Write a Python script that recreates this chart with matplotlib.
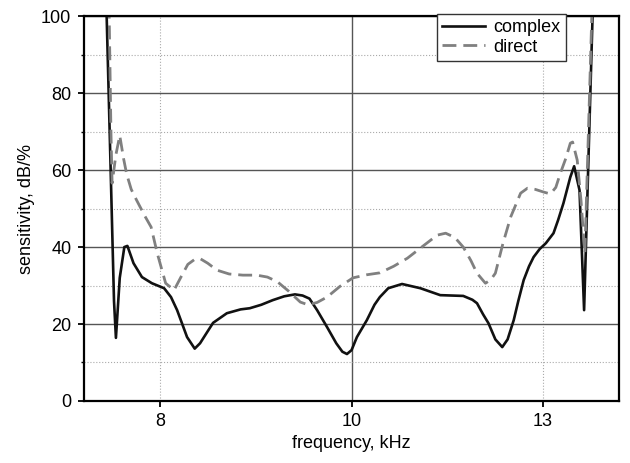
import numpy as np
import matplotlib
matplotlib.use("Agg")
import matplotlib.pyplot as plt
from matplotlib.ticker import MultipleLocator

plt.rcParams["font.family"] = ["Liberation Sans", "DejaVu Sans"]
plt.rcParams["font.size"] = 13

# complex (solid) curve
x_complex = [7.295, 7.35, 7.395, 7.42, 7.47, 7.53, 7.57, 7.65, 7.76, 7.89, 8.05, 8.14,
             8.22, 8.35, 8.45, 8.52, 8.60, 8.69, 8.87, 9.05, 9.17, 9.32, 9.47, 9.62,
             9.76, 9.86, 9.95, 10.05, 10.18, 10.30, 10.38, 10.44, 10.50, 10.57, 10.70,
             10.80, 10.87, 10.98, 11.16, 11.40, 11.66, 11.96, 12.08, 12.14, 12.22, 12.29,
             12.38, 12.47, 12.54, 12.62, 12.68, 12.75, 12.82, 12.88, 12.96, 13.04, 13.14,
             13.20, 13.27, 13.36, 13.41, 13.48, 13.54, 13.655]
y_complex = [103, 61, 26, 16.4, 32, 40, 40.3, 35.8, 32.2, 30.6, 29.3, 27,
             23.6, 16.6, 13.6, 15, 17.5, 20.3, 22.8, 23.8, 24.1, 25, 26.2, 27.2,
             27.7, 27.4, 26.6, 23.6, 19.2, 15, 12.8, 12.2, 13.2, 16.6, 21,
             25, 27, 29.3, 30.4, 29.3, 27.5, 27.3, 26.3, 25.4, 22.5, 20.2,
             16, 14.0, 16, 21, 26, 31.4, 35, 37.4, 39.5, 41, 43.6,
             47, 51.4, 58.2, 61, 54.8, 23.6, 103]

# direct (dashed) curve
x_direct = [7.33, 7.355, 7.37, 7.42, 7.47, 7.52, 7.56, 7.62, 7.69, 7.80, 7.88, 7.96,
            8.07, 8.18, 8.27, 8.36, 8.45, 8.52, 8.62, 8.74, 8.90, 9.08, 9.26, 9.40,
            9.53, 9.68, 9.83, 9.93, 10.05, 10.18, 10.35, 10.52, 10.70, 10.87, 11.05,
            11.23, 11.45, 11.62, 11.73, 11.85, 11.96, 12.06, 12.14, 12.25, 12.32, 12.38,
            12.48, 12.58, 12.71, 12.80, 12.90, 13.01, 13.10, 13.17, 13.23, 13.30, 13.36,
            13.39, 13.45, 13.50, 13.55, 13.645]
y_direct = [103, 70, 56.6, 64, 69, 63, 59, 55, 52.2, 48, 45.2, 38.4,
            30.6, 28.8, 32.2, 35.5, 36.8, 37, 35.8, 34, 33, 32.7, 32.7, 32.2,
            31, 28.5, 25.7, 25, 25.6, 27, 29.8, 32, 32.8, 33.3, 35,
            37.1, 40.5, 43.1, 43.6, 42.5, 40, 36.5, 33.2, 30.6, 31.5, 33.2,
            41, 47.8, 54, 55.3, 55, 54.3, 53.8, 55.5, 59.2, 63, 67,
            67.3, 62.6, 52, 38.4, 103]

x_ticks = [8, 10.5, 13]
x_ticklabels = ["8", "10", "13"]

fig, ax = plt.subplots(figsize=(6.3, 4.63), dpi=100)
fig.subplots_adjust(left=0.133, right=0.983, top=0.965, bottom=0.134)

# grid
ax.yaxis.set_major_locator(MultipleLocator(20))
ax.yaxis.set_minor_locator(MultipleLocator(10))
ax.grid(which="major", axis="y", color="#555555", lw=1.0, ls="-")
ax.grid(which="minor", axis="y", color="#aaaaaa", lw=0.8, ls=":")
ax.axvline(10.5, color="#555555", lw=1.0, zorder=0.5)
for xv in [8, 13]:
    ax.axvline(xv, color="#aaaaaa", lw=0.8, ls=":", zorder=0.5)
ax.set_axisbelow(True)

ax.plot(x_complex, y_complex, color="#111111", lw=1.9, solid_joinstyle="round",
        label="complex")
ax.plot(x_direct, y_direct, color="#808080", lw=2.0, dashes=(5, 2.5),
        dash_joinstyle="round", label="direct")

ax.set_xlim(7, 14)
ax.set_ylim(0, 100)
ax.set_xticks(x_ticks)
ax.set_xticklabels(x_ticklabels)
ax.tick_params(which="major", direction="out", length=4, width=1.3, pad=5)
ax.tick_params(which="minor", direction="out", length=2, width=1.0)
for sp in ax.spines.values():
    sp.set_linewidth(1.6)

ax.set_xlabel("frequency, kHz", labelpad=3)
ax.set_ylabel("sensitivity, dB/%", labelpad=4)

leg = ax.legend(loc="upper right", bbox_to_anchor=(0.90, 1.005), borderaxespad=0,
                fancybox=False, framealpha=1, edgecolor="#333333",
                handlelength=2.4, labelspacing=0.12, borderpad=0.28, handletextpad=0.45)
leg.get_frame().set_linewidth(1.0)

fig.savefig("out.png", dpi=100)
